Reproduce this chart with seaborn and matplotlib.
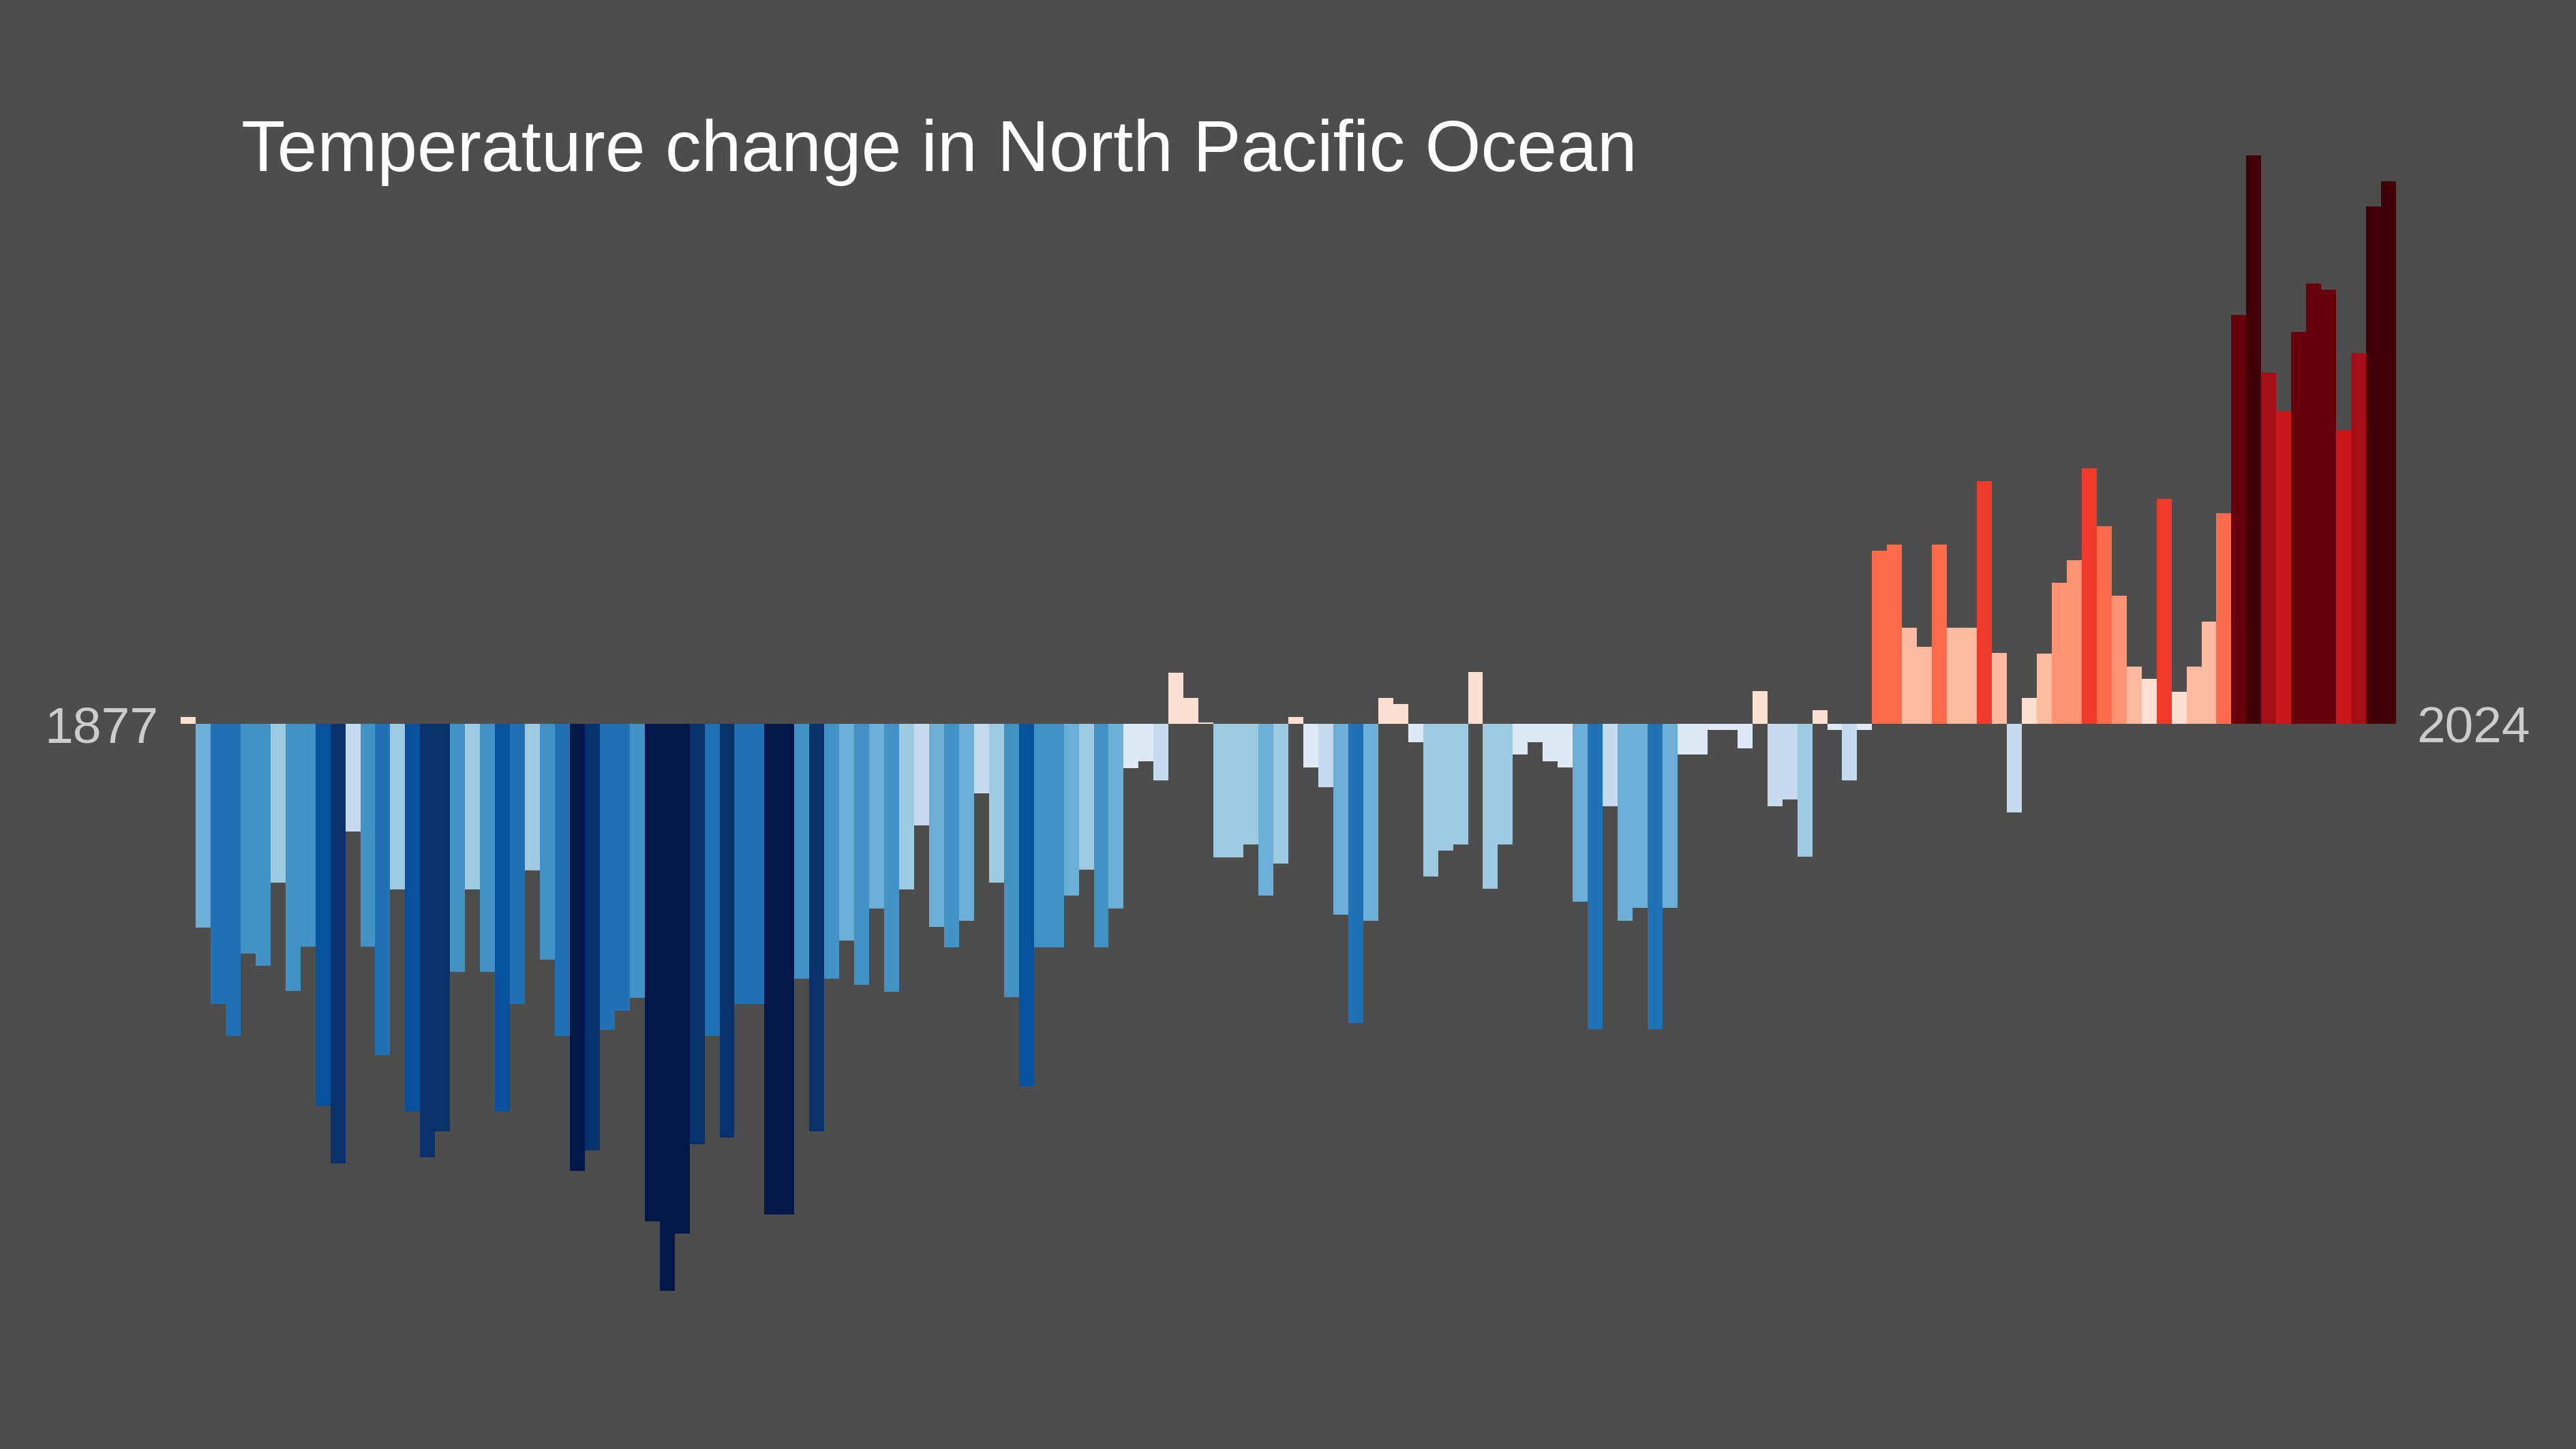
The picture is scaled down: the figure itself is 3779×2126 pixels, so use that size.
import numpy as np
import pandas as pd
import seaborn as sns
import matplotlib.pyplot as plt

# yearly temperature anomaly (degC), North Pacific Ocean
years = list(range(1877, 2025))
anomaly = [
    0.012, -0.367, -0.504, -0.562, -0.413, -0.436, -0.286, -0.481, -0.401, -0.688,  # 1877-1886
    -0.791, -0.194, -0.401, -0.596, -0.298, -0.698, -0.780, -0.734, -0.447, -0.298,  # 1887-1896
    -0.447, -0.698, -0.504, -0.264, -0.425, -0.562, -0.805, -0.768, -0.551, -0.517,  # 1897-1906
    -0.493, -0.896, -1.021, -0.918, -0.757, -0.562, -0.745, -0.504, -0.504, -0.883,  # 1907-1916
    -0.883, -0.459, -0.734, -0.459, -0.390, -0.470, -0.333, -0.482, -0.298, -0.183,  # 1917-1926
    -0.366, -0.402, -0.355, -0.125, -0.286, -0.492, -0.653, -0.402, -0.402, -0.309,  # 1927-1936
    -0.263, -0.402, -0.333, -0.080, -0.067, -0.102, 0.092, 0.047, 0.003, -0.240,     # 1937-1946
    -0.240, -0.217, -0.309, -0.252, 0.012, -0.079, -0.114, -0.344, -0.539, -0.355,   # 1947-1956
    0.047, 0.036, -0.033, -0.275, -0.228, -0.217, 0.093, -0.297, -0.217, -0.055,     # 1957-1966
    -0.033, -0.067, -0.079, -0.320, -0.550, -0.148, -0.355, -0.331, -0.550, -0.331,  # 1967-1976
    -0.055, -0.055, -0.011, -0.011, -0.044, 0.059, -0.148, -0.136, -0.239, 0.025,    # 1977-1986
    -0.011, -0.102, -0.011, 0.312, 0.323, 0.173, 0.139, 0.323, 0.173, 0.173,         # 1987-1996
    0.437, 0.128, -0.160, 0.047, 0.126, 0.254, 0.295, 0.460, 0.356, 0.231,           # 1997-2006
    0.103, 0.081, 0.405, 0.058, 0.103, 0.184, 0.379, 0.736, 1.023, 0.632,            # 2007-2016
    0.563, 0.705, 0.793, 0.782, 0.529, 0.667, 0.931, 0.977,                          # 2017-2024
]

# stripes palette, one colour per 0.1 degC band
blues = ['#021848', '#08306b', '#08519c', '#2171b5', '#4292c6',
         '#6baed6', '#9ecae1', '#c6dbef', '#deebf7']
reds = ['#fee0d2', '#fcbba1', '#fc9272', '#fb6a4a', '#ef3b2c',
        '#cb181d', '#a50f15', '#67000d', '#3f0008']
band_edges = np.round(np.arange(-0.8, 0.81, 0.1), 2)

df = pd.DataFrame({'year': [str(y) for y in years], 'anomaly': anomaly})
stripes = blues + reds
bar_colors = [stripes[i] for i in np.digitize(df['anomaly'], band_edges)]

BG = '#4d4d4d'
W, H = 3780, 2126

sns.set_style("dark")
plt.rcParams['font.family'] = ['Liberation Sans', 'DejaVu Sans']

fig = plt.figure(figsize=(W / 100, H / 100), dpi=100, facecolor=BG)
ax = fig.add_axes([265 / W, 0, 3250 / W, 1])
ax.set_facecolor(BG)

# saturation=1 so seaborn keeps the palette colours as they are
sns.barplot(data=df, x='year', y='anomaly', hue='year', palette=bar_colors,
            width=1.0, linewidth=0, saturation=1, legend=False, ax=ax)

# zero line sits 1062 px from the top, 815 px per degC
ax.set_xlim(-0.5, len(years) - 0.5)
ax.set_ylim(-(H - 1062) / 815, 1062 / 815)
ax.axis('off')

fig.text(354 / W, 1 - 251 / H, 'Temperature change in North Pacific Ocean',
         color='white', fontsize=76, ha='left', va='baseline')
fig.text(232 / W, 1 - 1090 / H, str(years[0]), color='#cccccc',
         fontsize=54, ha='right', va='baseline')
fig.text(3545 / W, 1 - 1090 / H, str(years[-1]), color='#cccccc',
         fontsize=54, ha='left', va='baseline')

fig.savefig('out.png', dpi=100, facecolor=BG)
